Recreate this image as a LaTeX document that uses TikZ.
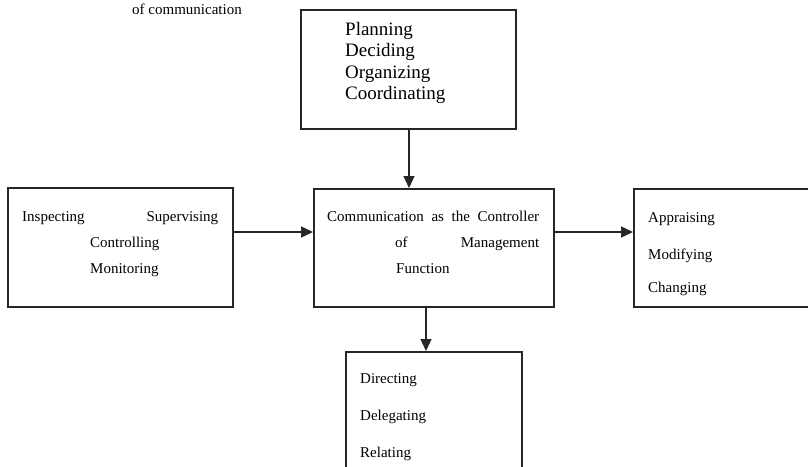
\documentclass[tikz,border=0pt]{standalone}
\usepackage{fontspec}
\setmainfont{Liberation Serif}
\usetikzlibrary{arrows.meta}
\begin{document}
\begin{tikzpicture}[x=1pt,y=-1pt,
  box/.style={draw=black!85,line width=1.6pt,inner sep=0pt,anchor=north west},
  txt/.style={inner sep=0pt,anchor=base west,font=\fontsize{15}{18}\selectfont},
  bigtxt/.style={inner sep=0pt,anchor=base west,font=\fontsize{19}{21}\selectfont},
  arr/.style={draw=black!85,line width=1.3pt,-{Triangle[length=12pt,width=11pt]}}]
\useasboundingbox (0,0) rectangle (808,466);
\clip (0,0) rectangle (808,466);
% boxes
\node[box,minimum width=215pt,minimum height=119pt] (top) at (300,9) {};
\node[box,minimum width=225pt,minimum height=119pt] (left) at (7,187) {};
\node[box,minimum width=240pt,minimum height=118pt] (mid) at (313,188) {};
\node[box,minimum width=200pt,minimum height=118pt] (right) at (633,188) {};
\node[box,minimum width=176pt,minimum height=140pt] (bot) at (345,351) {};
% caption fragment
\node[txt] (cap) at (132,14) {of communication};
% top box text
\node[bigtxt] (t1) at (345,35) {Planning};
\node[bigtxt] (t2) at (345,56.5) {Deciding};
\node[bigtxt] (t3) at (345,78) {Organizing};
\node[bigtxt] (t4) at (345,99.5) {Coordinating};
% left box text
\node[txt] (l1) at (22,221) {\hbox to 196pt{Inspecting\hfill Supervising}};
\node[txt] (l2) at (90,247) {Controlling};
\node[txt] (l3) at (90,273) {Monitoring};
% middle box text
\node[txt] (m1) at (327,221) {\hbox to 212pt{Communication\hfill as\hfill the\hfill Controller}};
\node[txt] (m2) at (395,247) {\hbox to 144pt{of\hfill Management}};
\node[txt] (m3) at (396,273) {Function};
% right box text
\node[txt] (r1) at (648,222) {Appraising};
\node[txt] (r2) at (648,259) {Modifying};
\node[txt] (r3) at (648,292) {Changing};
% bottom box text
\node[txt] (b1) at (360,383) {Directing};
\node[txt] (b2) at (360,420) {Delegating};
\node[txt] (b3) at (360,457) {Relating};
% connectors
\coordinate (lvl) at (0,232);
\coordinate (tx) at (409,0);
\coordinate (bx) at (426,0);
\draw[arr] (top.south -| tx) -- (mid.north -| tx);
\draw[arr] (left.east |- lvl) -- (mid.west |- lvl);
\draw[arr] (mid.east |- lvl) -- (right.west |- lvl);
\draw[arr] (mid.south -| bx) -- (bot.north -| bx);
\end{tikzpicture}
\end{document}
